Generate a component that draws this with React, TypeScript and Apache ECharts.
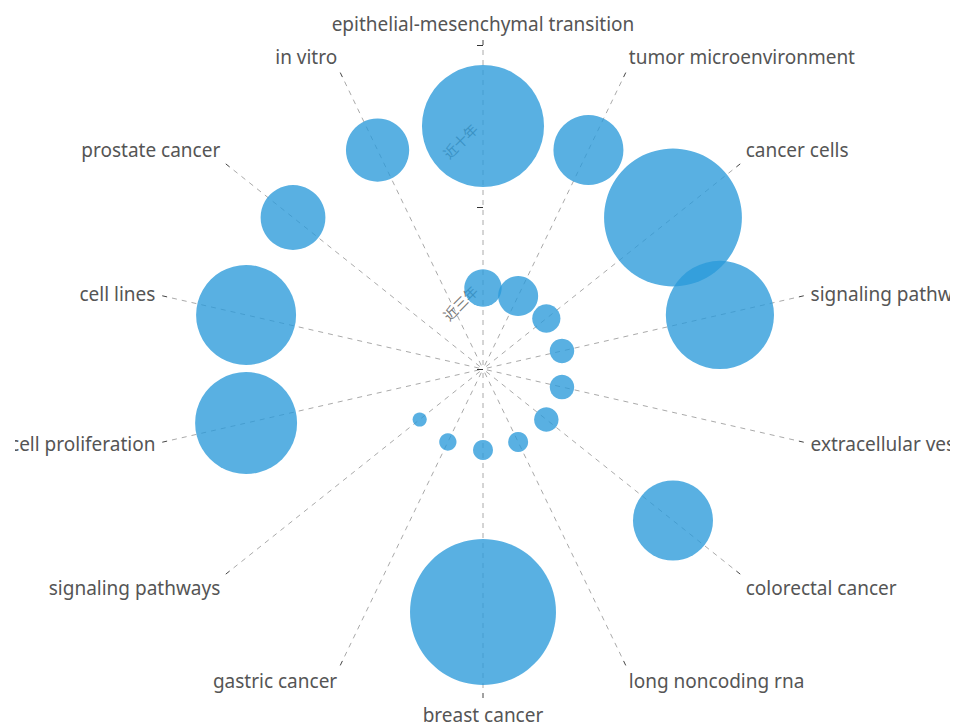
import React, { useEffect, useRef } from "react";
import * as echarts from "echarts";

const keywords = [
  "epithelial-mesenchymal transition",
  "tumor microenvironment",
  "cancer cells",
  "signaling pathway",
  "extracellular vesicles",
  "colorectal cancer",
  "long noncoding rna",
  "breast cancer",
  "gastric cancer",
  "signaling pathways",
  "cell proliferation",
  "cell lines",
  "prostate cancer",
  "in vitro",
];
const periods = ["近三年", "近十年"];
const recentCounts = [14, 16, 8, 6, 6, 6, 4, 4, 3, 2, 0, 0, 0, 0];
const decadeCounts = [149, 49, 190, 117, 0, 64, 0, 213, 0, 0, 104, 100, 42, 40];

export default function App() {
  const ref = useRef<HTMLDivElement>(null);
  useEffect(() => {
    document.body.style.margin = "0";
    document.documentElement.style.overflow = "hidden";
    const chart = echarts.init(ref.current!, null, { renderer: "svg" });
    const toData = (counts: number[], p: number) =>
      counts
        .map((v, i) => [p, i, v])
        .filter((d) => d[2] > 0);
    const sizeFn = (val: number[]) => Math.sqrt(val[2]) * 10;
    chart.setOption({
      animation: false,
      polar: { center: [468, 369], radius: [0, 324] },
      angleAxis: {
        type: "category",
        data: keywords,
        startAngle: 90,
        clockwise: true,
        boundaryGap: false,
        axisLine: { show: false },
        axisTick: { show: true, length: 5, lineStyle: { color: "#444" } },
        axisLabel: {
          color: "#555",
          fontSize: 19,
          fontFamily: "Noto Sans",
          margin: 12,
        },
        splitLine: {
          show: true,
          lineStyle: { color: "#aaa", type: [5, 5], dashOffset: 5, width: 1 },
        },
      },
      radiusAxis: {
        type: "category",
        data: periods,
        axisLine: { show: false },
        axisTick: { show: true, length: 6, lineStyle: { color: "#333" } },
        axisLabel: {
          rotate: 45,
          color: "#777",
          fontSize: 14,
          fontFamily: "Noto Sans CJK SC",
        },
        splitLine: { show: false },
      },
      series: [
        {
          type: "scatter",
          coordinateSystem: "polar",
          name: periods[0],
          data: toData(recentCounts, 0),
          symbolSize: sizeFn,
          itemStyle: { color: "#2a9ada", opacity: 0.78 },
        },
        {
          type: "scatter",
          coordinateSystem: "polar",
          name: periods[1],
          data: toData(decadeCounts, 1),
          symbolSize: sizeFn,
          itemStyle: { color: "#2a9ada", opacity: 0.78 },
        },
      ],
    });
    return () => chart.dispose();
  }, []);
  return (
    <div
      ref={ref}
      style={{ width: 935, height: 727, marginLeft: 15 }}
    />
  );
}
